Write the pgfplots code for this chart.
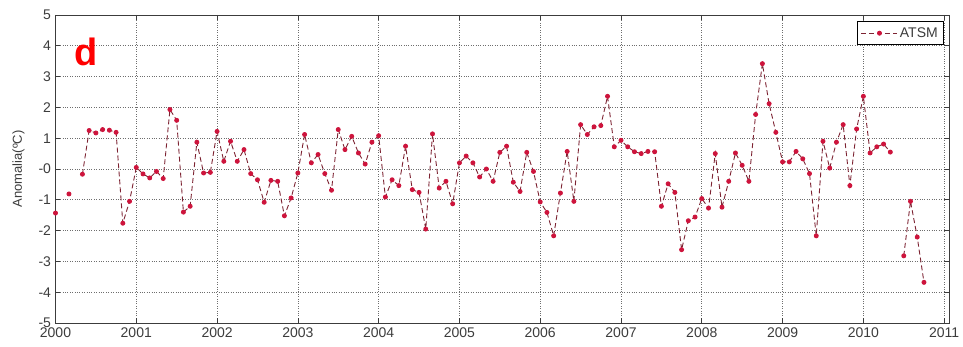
\documentclass[border=0pt]{standalone}
\usepackage{pgfplots}
\pgfplotsset{compat=1.18}
\usepackage{pgfplotstable}
\usepackage{fontspec}
\setmainfont{Liberation Sans}
\setsansfont{Liberation Sans}
\definecolor{linec}{RGB}{125,35,50}
\definecolor{markc}{RGB}{205,20,60}
\definecolor{gridc}{RGB}{110,110,110}
\definecolor{axc}{RGB}{60,60,60}
\pgfplotstableread{
m y
0 -1.43
1 nan
2 -0.81
3 nan
4 -0.17
5 1.25
6 1.17
7 1.28
8 1.26
9 1.19
10 -1.76
11 -1.05
12 0.05
13 -0.16
14 -0.29
15 -0.08
16 -0.31
17 1.93
18 1.58
19 -1.40
20 -1.21
21 0.87
22 -0.13
23 -0.11
24 1.22
25 0.25
26 0.90
27 0.25
28 0.63
29 -0.15
30 -0.35
31 -1.08
32 -0.37
33 -0.40
34 -1.52
35 -0.94
36 -0.13
37 1.12
38 0.20
39 0.47
40 -0.15
41 -0.69
42 1.28
43 0.63
44 1.06
45 0.52
46 0.16
47 0.87
48 1.08
49 -0.91
50 -0.35
51 -0.54
52 0.74
53 -0.67
54 -0.76
55 -1.95
56 1.14
57 -0.62
58 -0.40
59 -1.13
60 0.20
61 0.42
62 0.20
63 -0.26
64 0.00
65 -0.40
66 0.54
67 0.74
68 -0.43
69 -0.73
70 0.54
71 -0.08
72 -1.07
73 -1.41
74 -2.17
75 -0.78
76 0.57
77 -1.05
78 1.44
79 1.12
80 1.37
81 1.41
82 2.36
83 0.72
84 0.93
85 0.72
86 0.56
87 0.50
88 0.57
89 0.56
90 -1.21
91 -0.48
92 -0.76
93 -2.62
94 -1.68
95 -1.56
96 -0.96
97 -1.27
98 0.50
99 -1.24
100 -0.40
101 0.52
102 0.12
103 -0.40
104 1.77
105 3.42
106 2.12
107 1.19
108 0.23
109 0.23
110 0.57
111 0.33
112 -0.15
113 -2.17
114 0.90
115 0.03
116 0.87
117 1.44
118 -0.54
119 1.30
120 2.36
121 0.52
122 0.72
123 0.81
124 0.55
125 nan
126 -2.82
127 -1.05
128 -2.21
129 -3.68
}\atsm
\begin{document}
\begin{tikzpicture}
\begin{axis}[
  scale only axis,
  width=893.5pt, height=308pt,
  xmin=2000, xmax=2011.06,
  ymin=-5, ymax=5,
  xtick={2000,2001,...,2011},
  ytick={-5,-4,...,5},
  yticklabels={-5,-4,-3,-2,-1,-0,1,2,3,4,5},
  /pgf/number format/1000 sep={},
  /pgf/number format/assume math mode=true,
  tick label style={font=\fontsize{14}{16}\selectfont, text=axc},
  xticklabel style={yshift=-1pt},
  yticklabel style={xshift=-1pt},
  ylabel={Anomalia(ºC)},
  ylabel style={font=\fontsize{13}{15}\selectfont, text=axc, yshift=7pt},
  axis line style={axc, line width=0.8pt},
  tick style={axc, line width=0.6pt},
  tick align=inside,
  major tick length=5pt,
  grid=major,
  major grid style={gridc, dotted, line width=0.6pt},
  unbounded coords=jump,
  legend style={at={(axis cs:2011,4.8)}, anchor=north east, draw=black, line width=0.8pt,
    font=\fontsize{14}{16}\selectfont, inner xsep=4pt, inner ysep=4pt, text=axc},
  legend cell align=left,
  legend image code/.code={
    \draw[#1, line width=0.9pt] (0pt,0pt) -- (36pt,0pt);
    \draw[#1, only marks] plot coordinates {(18pt,0pt)};
  },
]
\addplot[linec, line width=0.9pt, dash pattern=on 5pt off 3pt,
  mark=*, mark size=2pt, mark options={solid, fill=markc, draw=markc}]
  table[x expr={2000+\thisrow{m}/12}, y=y] {\atsm};
\addlegendentry{ATSM}
\node[text=red, font=\fontsize{38}{38}\selectfont\bfseries] at (axis cs:2000.38,3.8) {d};
\end{axis}
\pgfresetboundingbox
\path (current axis.south west)+(-55.5pt,-24pt) rectangle ([shift={(14pt,15pt)}]current axis.north east);
\end{tikzpicture}
\end{document}
